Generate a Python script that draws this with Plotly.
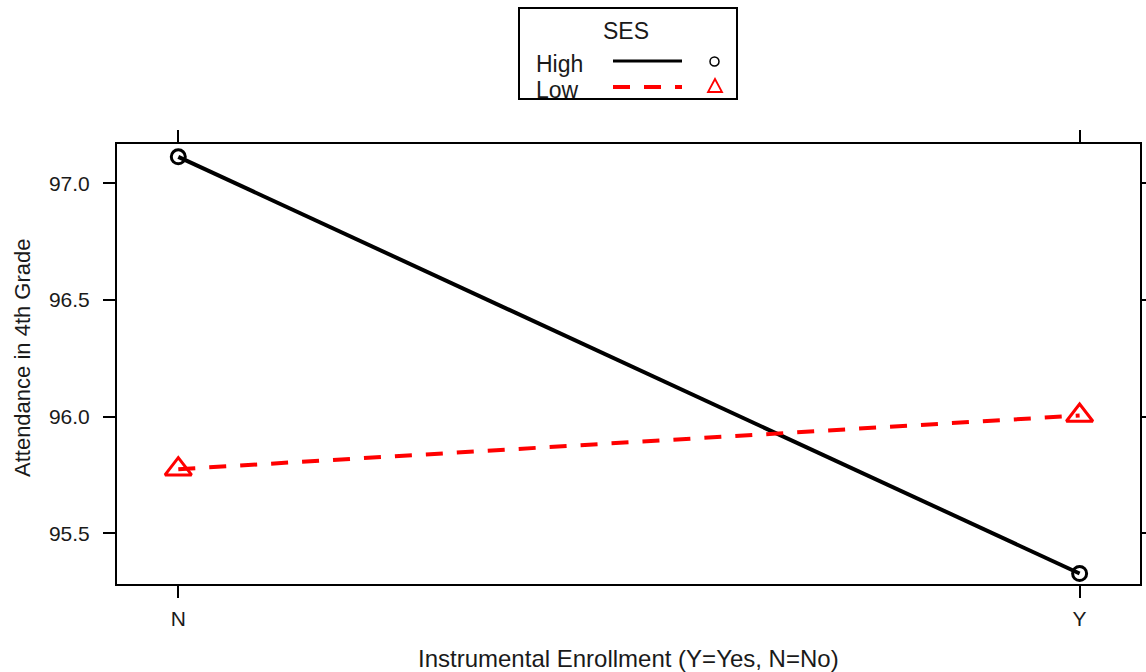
import plotly.graph_objects as go

# Interaction plot: attendance by instrumental enrollment and SES
enrollment = ["N", "Y"]
high_ses = [97.113, 95.328]
low_ses = [95.775, 96.005]
y_ticks = [95.5, 96.0, 96.5, 97.0]
y_tick_text = ["95.5", "96.0", "96.5", "97.0"]

W, H = 1146, 672
L, R, T, B = 117, 6, 144, 88
PW, PH = W - L - R, H - T - B
FONT = "Liberation Sans, Arial, sans-serif"
DASH = "17px,14px"


def px(x):
    return (x - L) / PW


def py(y):
    return (T + PH - y) / PH


fig = go.Figure()
fig.add_trace(go.Scatter(
    x=enrollment, y=high_ses, mode="lines+markers", name="High",
    line=dict(color="black", width=4),
    marker=dict(symbol="circle-open", size=14, color="black",
                line=dict(width=3, color="black")),
    showlegend=False, cliponaxis=False,
))
fig.add_trace(go.Scatter(
    x=enrollment, y=low_ses, mode="lines+markers", name="Low",
    line=dict(color="red", width=4, dash=DASH),
    marker=dict(symbol="triangle-up-open", size=23, color="red",
                line=dict(width=3, color="red")),
    showlegend=False, cliponaxis=False,
))

axis_common = dict(
    showline=True, linecolor="black", linewidth=2, mirror="ticks",
    ticks="outside", ticklen=12, tickwidth=2, tickcolor="black",
    showgrid=False, zeroline=False, automargin=False,
    tickfont=dict(family=FONT, size=21, color="#1a1a1a"),
)
fig.update_xaxes(type="category", range=[-0.068, 1.067], ticklabelstandoff=3,
                 **axis_common)
fig.update_yaxes(range=[95.283, 97.168], tickvals=y_ticks, ticktext=y_tick_text,
                 ticklabelstandoff=9, **axis_common)

# Axis titles
fig.add_annotation(text="Instrumental Enrollment (Y=Yes, N=No)",
                   xref="paper", yref="paper", x=px(628), y=py(658),
                   showarrow=False, xanchor="center", yanchor="middle",
                   font=dict(family=FONT, size=24, color="#1a1a1a"))
fig.add_annotation(text="Attendance in 4th Grade",
                   xref="paper", yref="paper", x=px(22), y=py(358),
                   showarrow=False, textangle=-90, xanchor="center", yanchor="middle",
                   font=dict(family=FONT, size=22, color="#1a1a1a"))

# Legend box drawn above the panel
shapes = [
    dict(type="rect", xref="paper", yref="paper",
         x0=px(519), x1=px(737), y0=py(99), y1=py(8),
         line=dict(color="black", width=2), fillcolor="white"),
    dict(type="line", xref="paper", yref="paper",
         x0=px(613), x1=px(682), y0=py(61), y1=py(61),
         line=dict(color="black", width=3)),
    dict(type="line", xref="paper", yref="paper",
         x0=px(613), x1=px(682), y0=py(87), y1=py(87),
         line=dict(color="red", width=4, dash=DASH)),
    dict(type="circle", xref="paper", yref="paper",
         x0=px(710), x1=px(719), y0=py(66), y1=py(57),
         line=dict(color="black", width=1.5)),
    dict(type="path", xref="paper", yref="paper",
         path=f"M {px(708)} {py(92)} L {px(722)} {py(92)} L {px(715)} {py(79)} Z",
         line=dict(color="red", width=1.8)),
]
fig.update_layout(shapes=shapes)

for txt, x, y, anchor in [("SES", 626, 31, "center"),
                          ("High", 534, 64, "left"),
                          ("Low", 534, 90, "left")]:
    fig.add_annotation(text=txt, xref="paper", yref="paper", x=px(x), y=py(y),
                       showarrow=False, xanchor=anchor, yanchor="middle",
                       font=dict(family=FONT, size=23, color="#1a1a1a"))

fig.update_layout(
    width=W, height=H,
    margin=dict(l=L, r=R, t=T, b=B),
    paper_bgcolor="white", plot_bgcolor="white",
    showlegend=False,
)

fig.write_html("out.html")
